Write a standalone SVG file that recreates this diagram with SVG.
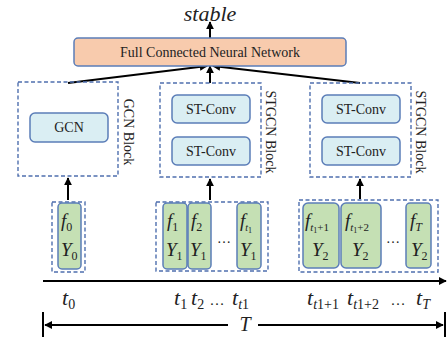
<svg xmlns="http://www.w3.org/2000/svg" width="447" height="341" viewBox="0 0 447 341">
<defs>
<style>
.t{font-family:"Liberation Serif","Times New Roman",serif;fill:#222}
.i{font-style:italic}
.dash{fill:none;stroke:#4F6FAE;stroke-width:1.4;stroke-dasharray:4 2.5}
.blue{fill:#DAEEF3;stroke:#5B7DB8;stroke-width:1.5}
.green{fill:#C5E0B4;stroke:#5B7DB8;stroke-width:1.5}
.ln{stroke:#000;stroke-width:2;fill:none}
</style>
<marker id="ah" viewBox="0 0 10 10" refX="9" refY="5" markerWidth="4" markerHeight="4" orient="auto-start-reverse" markerUnits="strokeWidth">
<path d="M0,0 L10,5 L0,10 z" fill="#000"/>
</marker>
</defs>
<rect width="447" height="341" fill="#fff"/>

<text class="t i" x="210" y="21" font-size="22" text-anchor="middle">stable</text>

<g id="connectors">
<line class="ln" x1="210" y1="38" x2="210" y2="22" marker-end="url(#ah)"/>
<line class="ln" x1="68" y1="83" x2="207" y2="66" marker-end="url(#ah)"/>
<line class="ln" x1="360" y1="83" x2="213" y2="66" marker-end="url(#ah)"/>
<line class="ln" x1="210" y1="83" x2="210" y2="66" marker-end="url(#ah)"/>
<line class="ln" x1="68" y1="200" x2="68" y2="178" marker-end="url(#ah)"/>
<line class="ln" x1="210" y1="200" x2="210" y2="179" marker-end="url(#ah)"/>
<line class="ln" x1="360" y1="199" x2="360" y2="179" marker-end="url(#ah)"/>
</g>

<g id="fcnn">
<rect x="74" y="38" width="272" height="28" rx="4" fill="#F8CBAD" stroke="#5B7DB8" stroke-width="1.5"/>
<text class="t" x="210" y="57" font-size="14" text-anchor="middle">Full Connected Neural Network</text>
</g>

<g id="gcn-block">
<rect class="dash" x="18" y="82" width="100" height="94"/>
<rect class="blue" x="30" y="113" width="78" height="29" rx="5"/>
<text class="t" x="69" y="132" font-size="14" text-anchor="middle">GCN</text>
<text class="t" font-size="14" text-anchor="middle" transform="translate(124,132) rotate(90)">GCN Block</text>
</g>

<g id="stgcn-block-1">
<rect class="dash" x="160" y="83" width="101" height="94"/>
<rect class="blue" x="172" y="95" width="78" height="28" rx="5"/>
<text class="t" x="211" y="114" font-size="14" text-anchor="middle">ST-Conv</text>
<rect class="blue" x="172" y="137" width="78" height="28" rx="5"/>
<text class="t" x="211" y="156" font-size="14" text-anchor="middle">ST-Conv</text>
<text class="t" font-size="14" text-anchor="middle" transform="translate(266,132) rotate(90)">STGCN Block</text>
</g>

<g id="stgcn-block-2">
<rect class="dash" x="310" y="83" width="101" height="94"/>
<rect class="blue" x="322" y="95" width="78" height="28" rx="5"/>
<text class="t" x="361" y="114" font-size="14" text-anchor="middle">ST-Conv</text>
<rect class="blue" x="322" y="137" width="78" height="28" rx="5"/>
<text class="t" x="361" y="156" font-size="14" text-anchor="middle">ST-Conv</text>
<text class="t" font-size="14" text-anchor="middle" transform="translate(416,132) rotate(90)">STGCN Block</text>
</g>

<g id="input-0">
<rect class="dash" x="52" y="202" width="33" height="70"/>
<rect class="green" x="58" y="203" width="23" height="66" rx="4"/>
<text class="t i" x="61" y="227" font-size="19">f<tspan font-style="normal" font-size="12" dy="4">0</tspan></text>
<text class="t i" x="61" y="256" font-size="19">Y<tspan font-style="normal" font-size="12" dy="4">0</tspan></text>
</g>

<g id="input-1">
<rect class="dash" x="156" y="202" width="112" height="69"/>
<rect class="green" x="163" y="203" width="24" height="66" rx="4"/>
<text class="t i" x="167" y="227" font-size="19">f<tspan font-style="normal" font-size="12" dy="4">1</tspan></text>
<text class="t i" x="166" y="256" font-size="19">Y<tspan font-style="normal" font-size="12" dy="4">1</tspan></text>
<rect class="green" x="188" y="203" width="23" height="66" rx="4"/>
<text class="t i" x="191" y="227" font-size="19">f<tspan font-style="normal" font-size="12" dy="4">2</tspan></text>
<text class="t i" x="190" y="256" font-size="19">Y<tspan font-style="normal" font-size="12" dy="4">1</tspan></text>
<text class="t" x="224" y="243" font-size="14" text-anchor="middle">…</text>
<rect class="green" x="237" y="203" width="24" height="66" rx="4"/>
<text class="t i" x="240" y="227" font-size="19">f<tspan font-size="10" dy="4">t</tspan><tspan font-style="normal" font-size="8" dy="2">1</tspan></text>
<text class="t i" x="240" y="256" font-size="19">Y<tspan font-style="normal" font-size="12" dy="4">1</tspan></text>
</g>

<g id="input-2">
<rect class="dash" x="299" y="200" width="139" height="72"/>
<rect class="green" x="303" y="203" width="36" height="65" rx="5"/>
<text class="t i" x="305" y="227" font-size="19">f<tspan font-size="11" dy="4">t</tspan><tspan font-style="normal" font-size="8" dy="2">1</tspan><tspan font-style="normal" font-size="11" dy="-2">+1</tspan></text>
<text class="t i" x="312" y="256" font-size="19">Y<tspan font-style="normal" font-size="12" dy="4">2</tspan></text>
<rect class="green" x="341" y="203" width="40" height="65" rx="5"/>
<text class="t i" x="345" y="227" font-size="19">f<tspan font-size="11" dy="4">t</tspan><tspan font-style="normal" font-size="8" dy="2">1</tspan><tspan font-style="normal" font-size="11" dy="-2">+2</tspan></text>
<text class="t i" x="352" y="256" font-size="19">Y<tspan font-style="normal" font-size="12" dy="4">2</tspan></text>
<text class="t" x="393" y="243" font-size="14" text-anchor="middle">…</text>
<rect class="green" x="406" y="203" width="25" height="65" rx="4"/>
<text class="t i" x="410" y="227" font-size="19">f<tspan font-size="12" dy="4">T</tspan></text>
<text class="t i" x="411" y="256" font-size="19">Y<tspan font-style="normal" font-size="12" dy="4">2</tspan></text>
</g>

<g id="axis">
<line class="ln" x1="43" y1="281" x2="446" y2="281" marker-end="url(#ah)"/>
<text class="t i" x="62" y="305" font-size="22">t<tspan font-style="normal" font-size="14" dy="4">0</tspan></text>
<text class="t i" x="174" y="305" font-size="22">t<tspan font-style="normal" font-size="14" dy="4">1</tspan></text>
<text class="t i" x="191" y="305" font-size="22">t<tspan font-style="normal" font-size="14" dy="4">2</tspan></text>
<text class="t" x="217" y="305" font-size="15" text-anchor="middle">…</text>
<text class="t i" x="232" y="305" font-size="22">t<tspan font-size="14" dy="4">t</tspan><tspan font-style="normal" font-size="14">1</tspan></text>
<text class="t i" x="307" y="305" font-size="22">t<tspan font-size="14" dy="4">t</tspan><tspan font-style="normal" font-size="14">1+1</tspan></text>
<text class="t i" x="347" y="305" font-size="22">t<tspan font-size="14" dy="4">t</tspan><tspan font-style="normal" font-size="14">1+2</tspan></text>
<text class="t" x="398" y="305" font-size="15" text-anchor="middle">…</text>
<text class="t i" x="416" y="305" font-size="22">t<tspan font-size="14" dy="4">T</tspan></text>
</g>

<g id="span-T">
<line class="ln" x1="43" y1="312" x2="43" y2="337"/>
<line class="ln" x1="445" y1="312" x2="445" y2="337"/>
<line class="ln" x1="228" y1="325" x2="45" y2="325" marker-end="url(#ah)"/>
<line class="ln" x1="258" y1="325" x2="443" y2="325" marker-end="url(#ah)"/>
<text class="t i" x="245" y="331" font-size="20" text-anchor="middle">T</text>
</g>
</svg>
